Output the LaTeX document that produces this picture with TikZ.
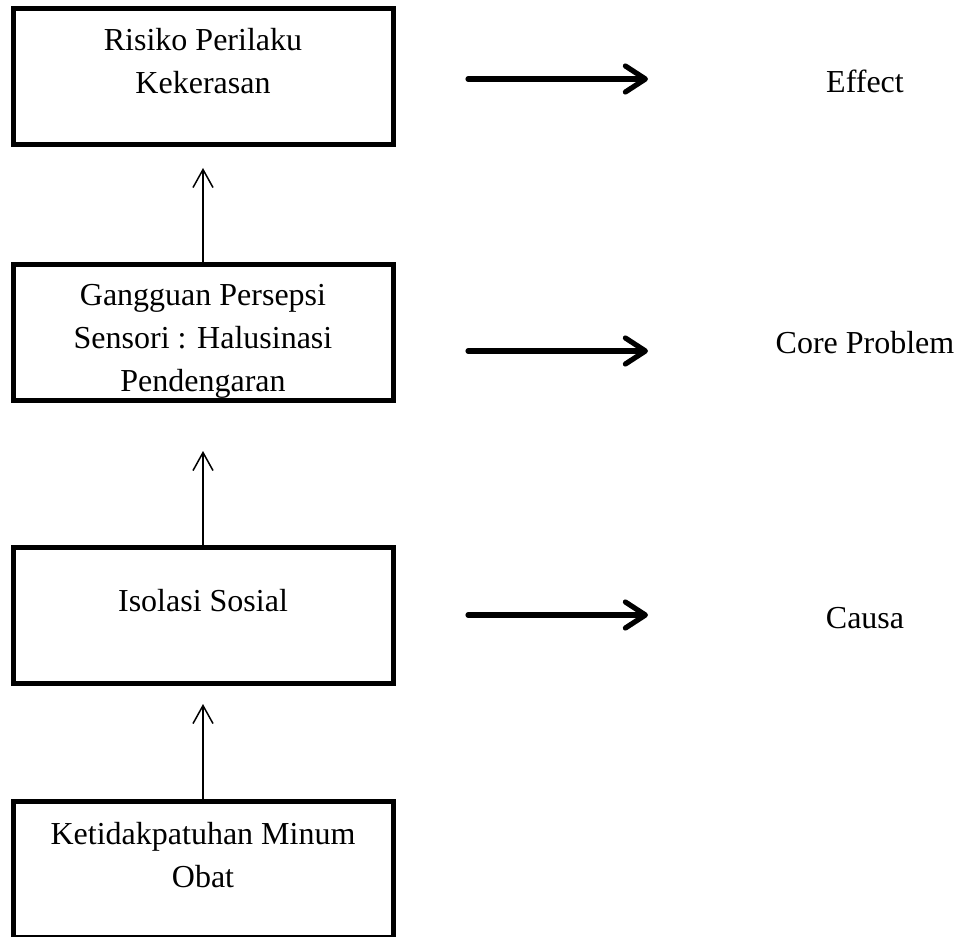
\documentclass[tikz,border=0pt]{standalone}
\usepackage{fontspec}
\setmainfont{Liberation Serif}
\usetikzlibrary{arrows.meta,positioning}

\begin{document}
\begin{tikzpicture}[x=0.5pt, y=-0.5pt,
    box/.style={rectangle, draw=black, line width=2.5pt, minimum width=190pt, minimum height=68pt, inner sep=0pt},
    txt/.style={anchor=north, align=center, inner sep=0pt, font=\fontsize{16}{21.5}\selectfont},
    side/.style={anchor=base, inner sep=0pt, font=\fontsize{16}{21.5}\selectfont},
    up/.style={-{Straight Barb[length=9pt, width=10pt]}, line width=0.75pt},
    big/.style={-{Straight Barb[round, length=10pt, width=13pt]}, line width=2.6pt, line cap=round}]

    \useasboundingbox (0,0) rectangle (962,936);

    % Boxes
    \node[box] (rpk) at (203,76.5) {};
    \node[box] (gps) at (203,332) {};
    \node[box] (iso) at (203,615) {};
    \node[box] (kmo) at (203,869) {};

    % Box texts
    \node[txt] (rpkt) at (203,28) {Risiko Perilaku\\Kekerasan};
    \node[txt] (gpst) at (203,284) {Gangguan Persepsi\\Sensori : Halusinasi\\Pendengaran};
    \node[txt] (isot) at (203,589) {Isolasi Sosial};
    \node[txt] (kmot) at (203,822) {Ketidakpatuhan Minum\\Obat};

    % Vertical arrows
    \coordinate (t1) at (203,168);
    \coordinate (t2) at (203,451);
    \coordinate (t3) at (203,704);
    \draw[up] (gps.north) -- (t1);
    \draw[up] (iso.north) -- (t2);
    \draw[up] (kmo.north) -- (t3);

    % Side arrows
    \foreach \n/\y in {e/79, c/351, s/615} {
        \coordinate (a\n) at (468,\y);
        \coordinate (b\n) at (648,\y);
        \draw[big] (a\n) -- (b\n);
    }

    % Labels
    \node[side] (eff) at (865,93) {Effect};
    \node[side] (core) at (865,353) {Core Problem};
    \node[side] (cau) at (865,628) {Causa};
\end{tikzpicture}
\end{document}
